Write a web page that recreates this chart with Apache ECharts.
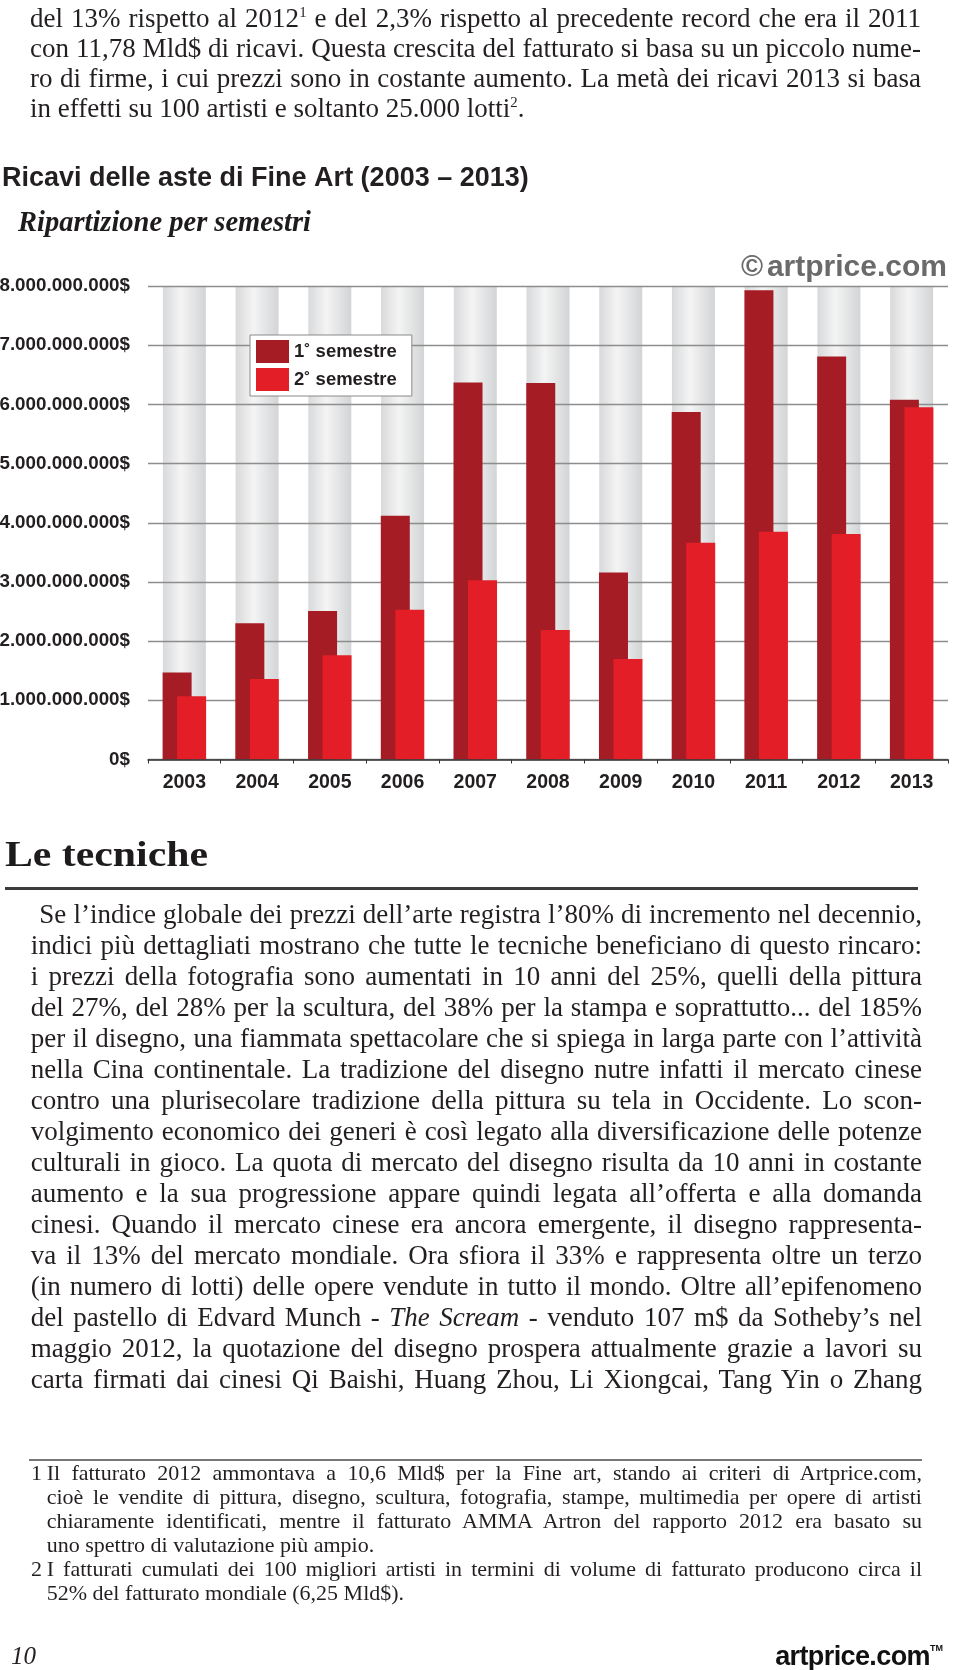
<!DOCTYPE html>
<html>
<head>
<meta charset="utf-8">
<script src="https://cdn.jsdelivr.net/npm/echarts@6/dist/echarts.min.js"></script>
<style>
html,body{margin:0;padding:0;background:#fff;}
#page{position:relative;width:960px;height:1670px;overflow:hidden;background:#fff;}
#chart{position:absolute;left:0;top:0;width:960px;height:1670px;}
.ln{position:absolute;white-space:nowrap;font-family:'Liberation Serif','Times New Roman',serif;color:#231f20;transform-origin:0 0;}
.ln sup{font-size:0.55em;vertical-align:0.7em;line-height:0;}
.rule{position:absolute;}
</style>
</head>
<body>
<div id="page">
  <div id="chart"></div>
</div>
<script>
// ---------------- DATA ----------------
const years = ['2003','2004','2005','2006','2007','2008','2009','2010','2011','2012','2013'];
// auction turnover, billions of US$
const firstSemester  = [1.47, 2.30, 2.51, 4.12, 6.37, 6.36, 3.16, 5.87, 7.93, 6.81, 6.08];
const secondSemester = [1.07, 1.36, 1.76, 2.53, 3.03, 2.19, 1.70, 3.66, 3.85, 3.81, 5.95];
const seriesNames = ['1˚ semestre', '2˚ semestre'];
const yTickLabels = ['0$','1.000.000.000$','2.000.000.000$','3.000.000.000$','4.000.000.000$',
                     '5.000.000.000$','6.000.000.000$','7.000.000.000$','8.000.000.000$'];
const chartTitle = 'Ricavi delle aste di Fine Art (2003 – 2013)';
const chartSubtitle = 'Ripartizione per semestri';
const copyrightSign = '©';
const copyrightText = 'artprice.com';

// ---------------- TEXT ----------------
const topLines = [
  'del 13% rispetto al 2012<sup>1</sup> e del 2,3% rispetto al precedente record che era il 2011',
  'con 11,78 Mld$ di ricavi. Questa crescita del fatturato si basa su un piccolo nume-',
  'ro di firme, i cui prezzi sono in costante aumento. La metà dei ricavi 2013 si basa',
  'in effetti su 100 artisti e soltanto 25.000 lotti<sup>2</sup>.'
];
const bodyLines = [
  'Se l’indice globale dei prezzi dell’arte registra l’80% di incremento nel decennio,',
  'indici più dettagliati mostrano che tutte le tecniche beneficiano di questo rincaro:',
  'i prezzi della fotografia sono aumentati in 10 anni del 25%, quelli della pittura',
  'del 27%, del 28% per la scultura, del 38% per la stampa e soprattutto... del 185%',
  'per il disegno, una fiammata spettacolare che si spiega in larga parte con l’attività',
  'nella Cina continentale. La tradizione del disegno nutre infatti il mercato cinese',
  'contro una plurisecolare tradizione della pittura su tela in Occidente. Lo scon-',
  'volgimento economico dei generi è così legato alla diversificazione delle potenze',
  'culturali in gioco. La quota di mercato del disegno risulta da 10 anni in costante',
  'aumento e la sua progressione appare quindi legata all’offerta e alla domanda',
  'cinesi. Quando il mercato cinese era ancora emergente, il disegno rappresenta-',
  'va il 13% del mercato mondiale. Ora sfiora il 33% e rappresenta oltre un terzo',
  '(in numero di lotti) delle opere vendute in tutto il mondo. Oltre all’epifenomeno',
  'del pastello di Edvard Munch - <i>The Scream</i> - venduto 107 m$ da Sotheby’s nel',
  'maggio 2012, la quotazione del disegno prospera attualmente grazie a lavori su',
  'carta firmati dai cinesi Qi Baishi, Huang Zhou, Li Xiongcai, Tang Yin o Zhang'
];
const footLines = [
  {num:'1', t:'Il fatturato 2012 ammontava a 10,6 Mld$ per la Fine art, stando ai criteri di Artprice.com,', j:true},
  {t:'cioè le vendite di pittura, disegno, scultura, fotografia, stampe, multimedia per opere di artisti', j:true},
  {t:'chiaramente identificati, mentre il fatturato AMMA Artron del rapporto 2012 era basato su', j:true},
  {t:'uno spettro di valutazione più ampio.', j:false},
  {num:'2', t:'I fatturati cumulati dei 100 migliori artisti in termini di volume di fatturato producono circa il', j:true},
  {t:'52% del fatturato mondiale (6,25 Mld$).', j:false}
];

const page = document.getElementById('page');

function makeLine(html, left, baseline, fs, lh, extraCss) {
  const d = document.createElement('div');
  d.className = 'ln';
  d.style.fontSize = fs + 'px';
  d.style.lineHeight = lh + 'px';
  d.style.left = left + 'px';
  const top = baseline - ((lh - 1.107 * fs) / 2 + 0.891 * fs);
  d.style.top = top + 'px';
  if (extraCss) d.style.cssText += extraCss;
  d.innerHTML = html;
  page.appendChild(d);
  return d;
}

function fitBlock(items) {
  const ratios = [];
  items.forEach(it => {
    it.w = it.el.getBoundingClientRect().width;
    if (it.justify) ratios.push(it.W / it.w);
  });
  ratios.sort((a, b) => a - b);
  let s = ratios.length ? ratios[Math.floor(ratios.length / 2)] : 1;
  s = Math.min(1, s);
  items.forEach(it => {
    let sc = s;
    if (it.justify) {
      const spaces = (it.el.textContent.match(/ /g) || []).length;
      let ws = (it.W / sc - it.w) / Math.max(1, spaces);
      if (ws < -2) { ws = -2; sc = it.W / (it.w + ws * spaces); }
      it.el.style.wordSpacing = ws + 'px';
    }
    it.el.style.transform = 'scaleX(' + sc + ')';
  });
}

// top paragraph
(function(){
  const items = [];
  topLines.forEach((h, i) => {
    const el = makeLine(h, 30, 27 + i * 30.2, 27, 30);
    items.push({el, W: 921 - 30, justify: i < topLines.length - 1});
  });
  fitBlock(items);
})();

// heading
(function(){
  const el = makeLine('Le tecniche', 5, 866.7, 35, 40, 'font-weight:bold;color:#1e1b1c;');
  const w = el.getBoundingClientRect().width;
  el.style.transform = 'scaleX(' + (203 / w) + ')';
  const r = document.createElement('div');
  r.className = 'rule';
  r.style.cssText = 'left:5px;top:887px;width:913px;height:2.5px;background:#3c3c3c;';
  page.appendChild(r);
})();

// body
(function(){
  const items = [];
  bodyLines.forEach((h, i) => {
    const left = i === 0 ? 39.3 : 30.7;
    const el = makeLine(h, left, 923.3 + i * 31, 27, 31);
    items.push({el, W: 922 - left, justify: true});
  });
  fitBlock(items);
})();

// footnotes
(function(){
  const r = document.createElement('div');
  r.className = 'rule';
  r.style.cssText = 'left:29px;top:1459px;width:893px;height:2px;background:#777;';
  page.appendChild(r);
  const items = [];
  footLines.forEach((f, i) => {
    const base = 1480 + i * 24;
    if (f.num) makeLine(f.num, 31, base, 22, 24);
    const el = makeLine(f.t, 46.7, base, 22, 24);
    items.push({el, W: 922 - 46.7, justify: f.j});
  });
  fitBlock(items);
})();

// page footer
makeLine('10', 11, 1664, 25, 28, 'font-style:italic;');
(function(){
  const d = document.createElement('div');
  d.style.cssText = "position:absolute;right:17px;top:1632px;font-family:'Liberation Sans',Arial,sans-serif;font-weight:bold;font-size:27px;line-height:32px;letter-spacing:-0.6px;color:#111;white-space:nowrap;";
  d.innerHTML = 'artprice.com<span style="font-size:9px;vertical-align:14px;letter-spacing:0">TM</span>';
  page.appendChild(d);
})();

// ---------------- CHART ----------------
const SANS = "'Liberation Sans', Arial, sans-serif";
const chart = echarts.init(document.getElementById('chart'), null, {renderer: 'canvas'});
const yMax = yTickLabels.length - 1;
const columnFill = new echarts.graphic.LinearGradient(0, 0, 1, 0, [
  {offset: 0, color: '#d8d9db'},
  {offset: 0.42, color: '#f4f4f4'},
  {offset: 1, color: '#d2d4d6'}
]);

chart.setOption({
  animation: false,
  backgroundColor: 'transparent',
  graphic: [
    {type: 'text', x: 2, y: 179, style: {text: chartTitle, font: "bold 27px " + SANS, fill: '#231f20', verticalAlign: 'middle'}},
    {type: 'text', x: 18, y: 223.5, style: {text: chartSubtitle, font: "italic bold 28.5px 'Liberation Serif', serif", fill: '#1e1b1c', verticalAlign: 'middle'}},
    {type: 'text', x: 741, y: 267.5, style: {text: copyrightSign, font: "bold 30px " + SANS, fill: '#6a6a6b', verticalAlign: 'middle'}},
    {type: 'text', x: 947, y: 267.5, style: {text: copyrightText, font: "bold 30px " + SANS, fill: '#6a6a6b', align: 'right', verticalAlign: 'middle'}}
  ],
  legend: {
    data: seriesNames,
    orient: 'vertical',
    left: 250,
    top: 335,
    itemWidth: 33,
    itemHeight: 23,
    itemGap: 5,
    padding: [5, 15, 5, 6],
    backgroundColor: '#fff',
    borderColor: '#8a8a8a',
    borderWidth: 1,
    icon: 'rect',
    selectedMode: false,
    textStyle: {fontFamily: SANS, fontWeight: 'bold', fontSize: 18.5, color: '#231f20'}
  },
  grid: {left: 148, right: 12, top: 286, bottom: 1670 - 759.5, outerBoundsMode: 'none', containLabel: false},
  xAxis: [{
    type: 'category',
    data: years,
    z: 3,
    axisLine: {lineStyle: {color: '#333', width: 1.5}},
    axisTick: {show: true, length: 4, lineStyle: {color: '#333', width: 1}},
    axisLabel: {fontFamily: SANS, fontWeight: 'bold', fontSize: 19.5, color: '#231f20', margin: 13.5}
  }],
  yAxis: {
    type: 'value',
    min: 0,
    max: yMax,
    interval: 1,
    z: 1,
    axisLine: {show: false},
    axisTick: {show: false},
    splitLine: {lineStyle: {color: '#8d8d8d', width: 1.3}},
    axisLabel: {
      margin: 18,
      fontFamily: SANS, fontWeight: 'bold', fontSize: 18.8, color: '#231f20',
      formatter: v => yTickLabels[Math.round(v)]
    }
  },
  series: [
    {
      type: 'custom',
      z: 0,
      silent: true,
      data: years.map((y, i) => [i, yMax]),
      encode: {x: 0, y: 1},
      renderItem: function (params, api) {
        const base = api.coord([api.value(0), 0]);
        const top = api.coord([api.value(0), api.value(1)]);
        const w = 43;
        return {type: 'rect', shape: {x: base[0] - w / 2, y: top[1], width: w, height: base[1] - top[1]}, style: {fill: columnFill}};
      }
    },
    {
      name: seriesNames[0], type: 'bar', z: 2,
      barWidth: 29, barGap: '-50%',
      itemStyle: {color: '#a51c24'},
      data: firstSemester
    },
    {
      name: seriesNames[1], type: 'bar', z: 2,
      barWidth: 29, barGap: '-50%',
      itemStyle: {color: '#e31e27'},
      data: secondSemester
    }
  ]
});
</script>
</body>
</html>
